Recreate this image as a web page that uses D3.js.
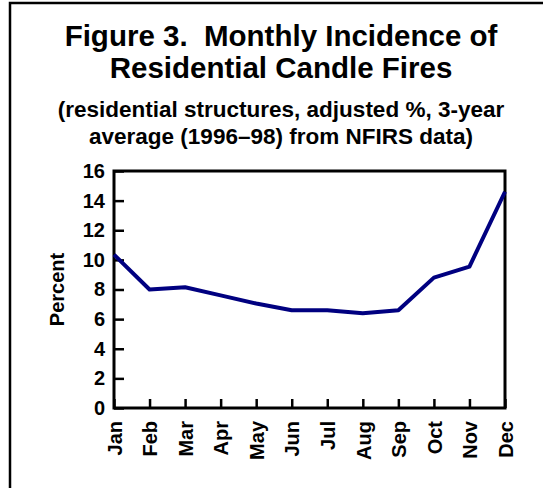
<!DOCTYPE html>
<html>
<head>
<meta charset="utf-8">
<script src="https://cdn.jsdelivr.net/npm/d3@7"></script>
<style>
  body { margin: 0; background: #fff; }
  svg { display: block; font-family: "Liberation Sans", Arial, sans-serif; font-weight: bold; }
  text { white-space: pre; }
</style>
</head>
<body>
<div id="chart"></div>
<script>
// data
var months = ["Jan", "Feb", "Mar", "Apr", "May", "Jun", "Jul", "Aug", "Sep", "Oct", "Nov", "Dec"];
var percents = [10.35, 8.0, 8.15, 7.6, 7.05, 6.6, 6.6, 6.4, 6.6, 8.8, 9.55, 14.6];
var yTicks = [0, 2, 4, 6, 8, 10, 12, 14, 16];
var titleLines = ["Figure 3.  Monthly Incidence of", "Residential Candle Fires"];
var subtitleLines = ["(residential structures, adjusted %, 3-year", "average (1996\u201398) from NFIRS data)"];

(function() {
  var width = 543, height = 488;
  var plotLeft = 114, plotRight = 505, plotTop = 171, plotBottom = 408;

  var svg = d3.select("#chart").append("svg")
      .attr("width", width)
      .attr("height", height);

  // outer frame (runs off the right and bottom edges)
  svg.append("rect")
      .attr("x", 10).attr("y", 3)
      .attr("width", 600).attr("height", 600)
      .attr("fill", "none")
      .attr("stroke", "#000")
      .attr("stroke-width", 2.5);

  var cx = 281;

  svg.selectAll(".title")
      .data(titleLines)
    .enter().append("text")
      .attr("class", "title")
      .attr("x", cx)
      .attr("y", function(d, i) { return 45.5 + i * 32.5; })
      .attr("text-anchor", "middle")
      .attr("font-size", 29.5)
      .text(function(d) { return d; });

  svg.selectAll(".subtitle")
      .data(subtitleLines)
    .enter().append("text")
      .attr("class", "subtitle")
      .attr("x", cx)
      .attr("y", function(d, i) { return 117 + i * 26.5; })
      .attr("text-anchor", "middle")
      .attr("font-size", 22.5)
      .text(function(d) { return d; });

  var x = d3.scalePoint()
      .domain(months)
      .range([plotLeft, plotRight]);

  var y = d3.scaleLinear()
      .domain([0, 16])
      .range([plotBottom, plotTop]);

  var yAxis = d3.axisLeft(y)
      .tickValues(yTicks)
      .tickSize(-10)
      .tickSizeOuter(0)
      .tickPadding(9);

  var xAxis = d3.axisBottom(x)
      .tickSize(-9)
      .tickSizeOuter(0)
      .tickPadding(0);

  var gy = svg.append("g")
      .attr("transform", "translate(" + plotLeft + ",0)")
      .call(yAxis);

  var gx = svg.append("g")
      .attr("transform", "translate(0," + plotBottom + ")")
      .call(xAxis);

  [gx, gy].forEach(function(g) {
    g.select(".domain").remove();
    g.selectAll(".tick line").attr("stroke", "#000").attr("stroke-width", 2.5);
    g.selectAll("text")
        .attr("font-family", "Liberation Sans, Arial, sans-serif")
        .attr("font-weight", "bold")
        .attr("font-size", 20)
        .attr("fill", "#000");
  });

  gx.selectAll(".tick text")
      .attr("transform", "translate(0,13) rotate(-90)")
      .attr("x", 0)
      .attr("y", 0)
      .attr("dy", "0.36em")
      .attr("text-anchor", "end");

  // plot frame
  svg.append("rect")
      .attr("x", plotLeft).attr("y", plotTop)
      .attr("width", plotRight - plotLeft).attr("height", plotBottom - plotTop)
      .attr("fill", "none")
      .attr("stroke", "#000")
      .attr("stroke-width", 3);

  svg.append("text")
      .attr("transform", "translate(64," + (plotTop + plotBottom) / 2 + ") rotate(-90)")
      .attr("text-anchor", "middle")
      .attr("font-size", 20)
      .text("Percent");

  var line = d3.line()
      .x(function(d, i) { return x(months[i]); })
      .y(function(d) { return y(d); });

  svg.append("path")
      .datum(percents)
      .attr("fill", "none")
      .attr("stroke", "#000080")
      .attr("stroke-width", 4)
      .attr("stroke-linejoin", "round")
      .attr("d", line);
})();
</script>
</body>
</html>
